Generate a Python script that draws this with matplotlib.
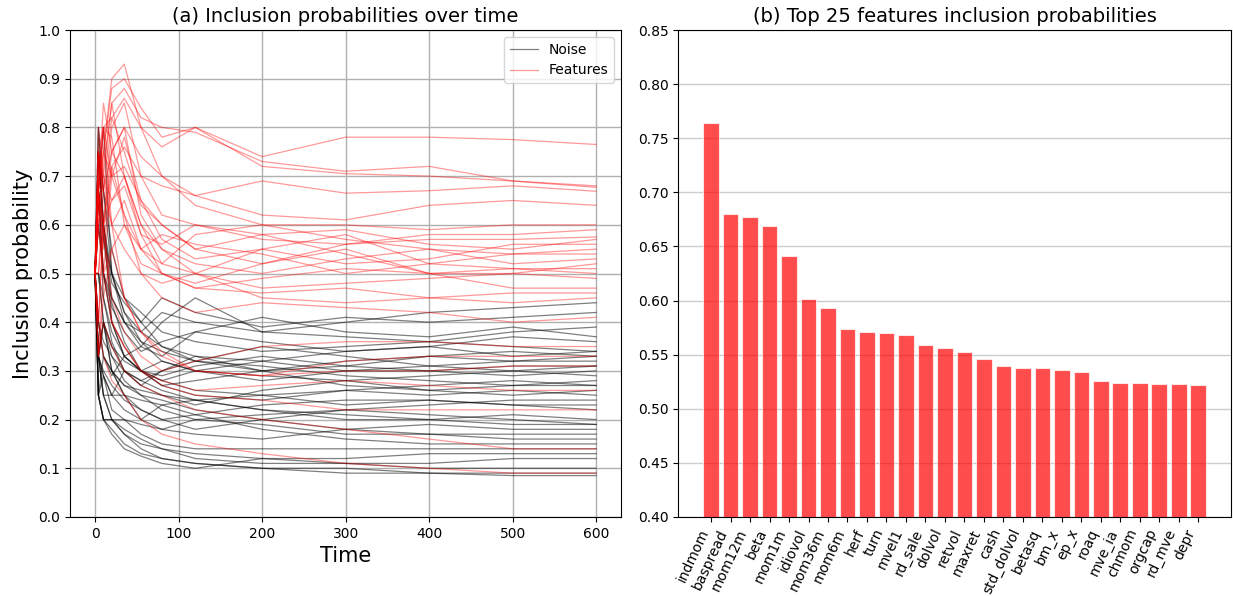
import matplotlib
matplotlib.use("Agg")
import matplotlib.pyplot as plt
import numpy as np

time_points = [0, 4, 10, 20, 35, 55, 80, 120, 200, 300, 400, 500, 600]

noise_paths = [
    [.5, .75, .6, .4, .33, .3, .28, .3, .32, .3, .31, .3, .31],
    [.5, .33, .25, .2, .17, .14, .12, .11, .10, .10, .09, .09, .09],
    [.5, .67, .8, .5, .4, .35, .33, .38, .36, .34, .35, .37, .36],
    [.5, .33, .4, .3, .25, .22, .2, .18, .2, .22, .21, .2, .19],
    [.5, .25, .2, .17, .14, .125, .11, .1, .12, .11, .1, .1, .1],
    [.5, .67, .5, .45, .4, .38, .42, .4, .38, .37, .36, .38, .39],
    [.5, .75, .57, .44, .36, .3, .27, .25, .24, .26, .27, .28, .27],
    [.5, .33, .29, .25, .22, .2, .23, .21, .18, .16, .15, .15, .15],
    [.5, .8, .67, .55, .45, .4, .35, .33, .3, .32, .33, .34, .33],
    [.5, .4, .33, .3, .27, .26, .25, .24, .22, .21, .2, .21, .2],
    [.5, .25, .2, .18, .15, .13, .12, .11, .1, .09, .09, .085, .085],
    [.5, .6, .5, .4, .33, .35, .4, .45, .38, .4, .42, .43, .44],
    [.5, .33, .25, .25, .3, .28, .3, .32, .35, .33, .31, .32, .32],
    [.5, .67, .5, .4, .35, .3, .28, .26, .25, .23, .24, .23, .23],
    [.5, .25, .33, .3, .25, .2, .18, .17, .16, .18, .19, .18, .18],
    [.5, .5, .4, .33, .28, .25, .22, .2, .19, .17, .17, .16, .16],
    [.5, .75, .6, .5, .42, .36, .32, .3, .29, .28, .29, .3, .29],
    [.5, .33, .4, .35, .3, .27, .25, .23, .26, .28, .26, .25, .26],
    [.5, .67, .57, .5, .45, .42, .38, .36, .34, .35, .36, .35, .34],
    [.5, .25, .2, .2, .17, .15, .14, .13, .12, .12, .13, .13, .13],
    [.5, .4, .33, .29, .33, .3, .32, .3, .28, .3, .3, .29, .3],
    [.5, .5, .45, .38, .33, .3, .27, .28, .3, .31, .33, .32, .33],
    [.5, .8, .6, .45, .4, .36, .34, .32, .3, .27, .26, .27, .28],
    [.5, .33, .3, .27, .24, .22, .2, .21, .23, .24, .24, .23, .22],
    [.5, .25, .29, .22, .2, .17, .15, .14, .14, .14, .14, .14, .14],
    [.5, .6, .5, .43, .38, .34, .36, .38, .41, .38, .37, .39, .37],
    [.5, .67, .45, .36, .3, .28, .26, .24, .22, .2, .2, .19, .19],
    [.5, .33, .25, .2, .18, .16, .14, .12, .11, .11, .11, .12, .12],
    [.5, .75, .67, .5, .42, .38, .35, .32, .31, .29, .28, .27, .27],
    [.5, .4, .36, .33, .3, .27, .3, .33, .32, .34, .35, .33, .34],
    [.5, .33, .29, .25, .25, .24, .23, .24, .25, .26, .25, .26, .25],
    [.5, .5, .4, .35, .32, .3, .29, .31, .33, .31, .3, .31, .31],
    [.5, .25, .2, .2, .2, .19, .18, .2, .21, .22, .23, .24, .24],
    [.5, .67, .6, .48, .44, .4, .45, .42, .39, .41, .4, .41, .42],
    [.5, .33, .4, .3, .27, .25, .24, .22, .2, .18, .17, .17, .17],
]

feature_paths = [
    [.5, .67, .8, .82, .86, .8, .76, .8, .74, .78, .78, .775, .765],
    [.5, .75, .7, .85, .88, .82, .8, .79, .73, .71, .72, .69, .68],
    [.5, .6, .75, .88, .9, .84, .78, .8, .72, .705, .7, .69, .677],
    [.5, .67, .6, .75, .8, .74, .7, .66, .62, .61, .64, .65, .64],
    [.5, .4, .6, .72, .76, .7, .68, .66, .69, .665, .67, .68, .669],
    [.5, .67, .75, .9, .93, .8, .7, .64, .6, .6, .59, .6, .6],
    [.5, .33, .5, .7, .78, .65, .6, .55, .52, .56, .57, .57, .575],
    [.5, .67, .6, .8, .85, .7, .62, .6, .58, .59, .56, .55, .57],
    [.5, .75, .8, .7, .72, .65, .57, .53, .55, .58, .52, .54, .55],
    [.5, .5, .67, .75, .8, .62, .55, .52, .5, .53, .55, .52, .53],
    [.5, .6, .72, .85, .7, .58, .5, .48, .52, .55, .5, .5, .52],
    [.5, .67, .8, .78, .6, .55, .58, .56, .54, .5, .52, .51, .5],
    [.5, .4, .6, .65, .7, .6, .52, .5, .47, .48, .49, .5, .49],
    [.5, .75, .67, .82, .75, .64, .6, .55, .58, .54, .5, .47, .47],
    [.5, .6, .7, .6, .65, .55, .5, .47, .46, .47, .45, .46, .46],
    [.5, .67, .55, .72, .62, .5, .48, .5, .55, .52, .53, .56, .56],
    [.5, .8, .7, .65, .68, .58, .56, .6, .57, .56, .58, .58, .59],
    [.5, .33, .45, .55, .6, .52, .5, .47, .49, .51, .5, .51, .51],
    [.5, .67, .85, .75, .7, .6, .55, .5, .45, .44, .45, .44, .45],
    [.5, .6, .5, .55, .45, .38, .33, .3, .29, .3, .3, .31, .31],
    [.5, .67, .5, .4, .35, .3, .27, .25, .24, .22, .22, .22, .22],
    [.5, .75, .6, .45, .38, .33, .3, .32, .35, .36, .36, .35, .35],
    [.5, .33, .4, .35, .3, .27, .25, .22, .2, .18, .16, .14, .14],
    [.5, .5, .6, .4, .35, .3, .28, .26, .27, .28, .27, .26, .26],
    [.5, .67, .8, .6, .45, .38, .34, .3, .29, .32, .33, .33, .33],
    [.5, .4, .33, .28, .25, .2, .17, .15, .13, .11, .1, .09, .09],
    [.5, .75, .67, .6, .55, .5, .45, .42, .44, .43, .42, .4, .41],
    [.5, .67, .75, .7, .62, .55, .52, .58, .6, .57, .55, .54, .54],
]

top_features = ['indmom', 'baspread', 'mom12m', 'beta', 'mom1m', 'idiovol',
                'mom36m', 'mom6m', 'herf', 'turn', 'mvel1', 'rd_sale', 'dolvol',
                'retvol', 'maxret', 'cash', 'std_dolvol', 'betasq', 'bm_x',
                'ep_x', 'roaq', 'mve_ia', 'chmom', 'orgcap', 'rd_mve', 'depr']
top_probs = [0.7645, 0.680, 0.6775, 0.669, 0.641, 0.6015, 0.5935, 0.5738,
             0.5713, 0.5704, 0.5679, 0.559, 0.5565, 0.5528, 0.5463, 0.5395,
             0.538, 0.538, 0.536, 0.5336, 0.526, 0.524, 0.5235, 0.5228,
             0.5228, 0.5222]

fig = plt.figure(figsize=(12.33, 5.96), dpi=100)
ax1 = fig.add_axes([0.0568, 0.1326, 0.447, 0.817])
ax2 = fig.add_axes([0.550, 0.1326, 0.4485, 0.817])

#(a) paths over time
for i, p in enumerate(noise_paths):
    ax1.plot(time_points, p, color='black', alpha=0.5, lw=0.9,
             label='Noise' if i == 0 else None)
for i, p in enumerate(feature_paths):
    ax1.plot(time_points, p, color='red', alpha=0.4, lw=0.9,
             label='Features' if i == 0 else None)
ax1.set_ylim(0, 1.0)
ax1.set_yticks(np.arange(0, 1.01, 0.1))
ax1.tick_params(labelsize=10)
ax1.set_xlabel('Time', fontsize=15)
ax1.set_ylabel('Inclusion probability', fontsize=15)
ax1.set_title('(a) Inclusion probabilities over time', fontsize=14)
ax1.grid(True, color='#b0b0b0', lw=1.0)
ax1.legend(loc='upper right', fontsize=10)

#(b) top features
ax2.bar(top_features, top_probs, color='red', alpha=0.7, edgecolor='white', lw=0.8)
ax2.set_ylim(0.40, 0.85)
ax2.set_title('(b) Top 25 features inclusion probabilities', fontsize=14)
ax2.yaxis.grid(True, color='#cccccc', lw=1.0)
ax2.set_axisbelow(True)
ax2.tick_params(labelsize=10)
plt.setp(ax2.get_xticklabels(), rotation=65, ha='right', fontsize=10)

plt.savefig('out.png', dpi=100)
